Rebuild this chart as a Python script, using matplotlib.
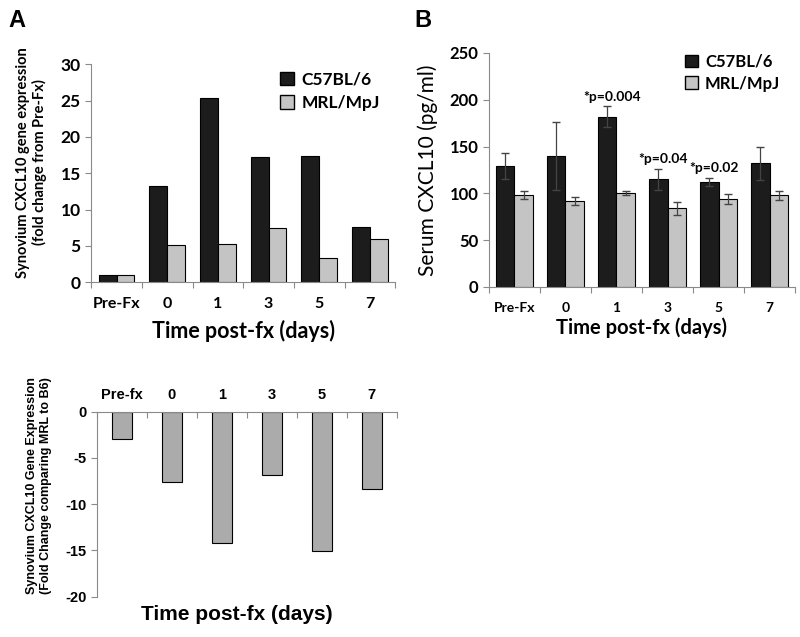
import matplotlib

matplotlib.use("Agg")
import matplotlib.pyplot as plt
from matplotlib.patches import Patch
import numpy as np

plt.rcParams["axes.unicode_minus"] = False

# panel A: synovium gene expression, fold change from Pre-Fx
a_labels = ["Pre-Fx", "0", "1", "3", "5", "7"]
a_b6 = [1.0, 13.2, 25.4, 17.2, 17.4, 7.6]
a_mrl = [1.0, 5.1, 5.3, 7.4, 3.4, 5.9]

# panel B: serum CXCL10 (pg/ml) with error bars
b_labels = ["Pre-Fx", "0", "1", "3", "5", "7"]
b_b6 = [129, 140, 182, 115, 112, 132]
b_b6_err = [14, 36, 11, 11, 4, 18]
b_mrl = [98, 92, 100, 84, 94, 98]
b_mrl_err = [4, 4, 2, 7, 5, 5]
b_notes = [(2, 203, "*p=0.004"), (3, 137, "*p=0.04"), (4, 127, "*p=0.02")]

# bottom panel: MRL vs B6 fold change
c_labels = ["Pre-fx", "0", "1", "3", "5", "7"]
c_vals = [-2.9, -7.6, -14.2, -6.8, -15.1, -8.4]

DARK = "#1c1c1c"
LIGHT = "#c4c4c4"
MID = "#ababab"
SPINE = "#8a8a8a"
CAL = ["Lato", "DejaVu Sans"]
ARI = ["Liberation Sans", "DejaVu Sans"]

fig = plt.figure(figsize=(8, 6.37), dpi=100)


def excel_axis(ax, labels, fam, xsize, ysize):
    n = len(labels)
    x = np.arange(n)
    ax.set_xlim(-0.5, n - 0.5)
    ax.set_xticks(np.arange(n + 1) - 0.5)
    ax.set_xticklabels([])
    ax.set_xticks(x, minor=True)
    ax.set_xticklabels(labels, minor=True, fontfamily=fam, fontweight="bold", fontsize=xsize)
    ax.tick_params(axis="x", which="minor", length=0, pad=11)
    ax.tick_params(axis="x", which="major", length=4, color=SPINE)
    ax.tick_params(axis="y", length=4, color=SPINE)
    for s in ("top", "right"):
        ax.spines[s].set_visible(False)
    for s in ("left", "bottom"):
        ax.spines[s].set_color(SPINE)
    for lab in ax.get_yticklabels():
        lab.set_fontfamily(fam)
        lab.set_fontweight("bold")
        lab.set_fontsize(ysize)
    return x


# ---- panel A
ax1 = fig.add_axes([0.114, 0.557, 0.38, 0.342])
x = np.arange(len(a_labels))
w = 0.35
ax1.bar(x - w / 2, a_b6, w, color=DARK, edgecolor="black", linewidth=0.8)
ax1.bar(x + w / 2, a_mrl, w, color=LIGHT, edgecolor="black", linewidth=0.8)
ax1.set_ylim(0, 30)
ax1.set_yticks([0, 5, 10, 15, 20, 25, 30])
excel_axis(ax1, a_labels, CAL, 11.5, 12.5)
ax1.set_ylabel("Synovium CXCL10 gene expression\n(fold change from Pre-Fx)",
               fontfamily=CAL, fontweight="bold", fontsize=10.5)
ax1.yaxis.set_label_coords(-0.145, 0.55)
ax1.set_xlabel("Time post-fx (days)", fontfamily=CAL, fontweight="bold", fontsize=15.5, labelpad=6)
ax1.legend(handles=[Patch(facecolor=DARK, edgecolor="black", label="C57BL/6"),
                    Patch(facecolor=LIGHT, edgecolor="black", label="MRL/MpJ")],
           loc="upper right", bbox_to_anchor=(1.0, 1.04), frameon=False,
           handlelength=0.8, handleheight=0.8, handletextpad=0.4, labelspacing=0.45,
           prop={"family": CAL, "weight": "bold", "size": 12.5})
fig.text(0.021, 0.968, "A", fontfamily=ARI, fontweight="bold", fontsize=17, va="center", ha="center")

# ---- panel B
ax2 = fig.add_axes([0.611, 0.5495, 0.383, 0.3675])
w = 0.36
ax2.bar(x - w / 2, b_b6, w, color=DARK, edgecolor="black", linewidth=0.8)
ax2.bar(x + w / 2, b_mrl, w, color=LIGHT, edgecolor="black", linewidth=0.8)
ax2.errorbar(x - w / 2, b_b6, yerr=b_b6_err, fmt="none", ecolor="#444444", elinewidth=0.9, capsize=3)
ax2.errorbar(x + w / 2, b_mrl, yerr=b_mrl_err, fmt="none", ecolor="#444444", elinewidth=0.9, capsize=3)
ax2.set_ylim(0, 250)
ax2.set_yticks([0, 50, 100, 150, 200, 250])
excel_axis(ax2, b_labels, CAL, 10, 12)
ax2.set_ylabel("Serum CXCL10 (pg/ml)", fontfamily=CAL, fontsize=15, labelpad=8)
ax2.set_xlabel("Time post-fx (days)", fontfamily=CAL, fontweight="bold", fontsize=14.5, labelpad=2)
for xi, yi, t in b_notes:
    ax2.text(xi - 0.08, yi, t, ha="center", va="center", fontfamily=CAL, fontweight="bold", fontsize=10)
ax2.legend(handles=[Patch(facecolor=DARK, edgecolor="black", label="C57BL/6"),
                    Patch(facecolor=LIGHT, edgecolor="black", label="MRL/MpJ")],
           loc="upper right", bbox_to_anchor=(1.0, 1.06), frameon=False,
           handlelength=0.8, handleheight=0.8, handletextpad=0.4, labelspacing=0.35,
           prop={"family": CAL, "weight": "bold", "size": 12})
fig.text(0.529, 0.968, "B", fontfamily=ARI, fontweight="bold", fontsize=17, va="center", ha="center")

# ---- bottom panel
ax3 = fig.add_axes([0.121, 0.0633, 0.375, 0.2904])
ax3.bar(x, c_vals, 0.41, color=MID, edgecolor="black", linewidth=0.8)
ax3.set_ylim(-20, 0)
ax3.set_yticks([-20, -15, -10, -5, 0])
ax3.set_xlim(-0.5, len(c_labels) - 0.5)
ax3.xaxis.set_ticks_position("top")
ax3.set_xticks(np.arange(len(c_labels) + 1) - 0.5)
ax3.set_xticklabels([])
ax3.set_xticks(x, minor=True)
ax3.set_xticklabels(c_labels, minor=True, fontfamily=ARI, fontweight="bold", fontsize=10.5)
ax3.tick_params(axis="x", which="minor", length=0, pad=7, top=True, bottom=False)
ax3.tick_params(axis="x", which="major", length=4, direction="in", color=SPINE, top=True, bottom=False)
ax3.tick_params(axis="y", length=4, color=SPINE)
for s in ("bottom", "right"):
    ax3.spines[s].set_visible(False)
for s in ("left", "top"):
    ax3.spines[s].set_color(SPINE)
for lab in ax3.get_yticklabels():
    lab.set_fontfamily(ARI)
    lab.set_fontweight("bold")
    lab.set_fontsize(10.5)
ax3.set_ylabel("Synovium CXCL10 Gene Expression\n(Fold Change comparing MRL to B6)",
               fontfamily=ARI, fontweight="bold", fontsize=9)
ax3.yaxis.set_label_coords(-0.15, 0.6)
fig.text(0.296, 0.05, "Time post-fx (days)", fontfamily=ARI, fontweight="bold", fontsize=15,
         ha="center", va="top")

fig.savefig("out.png", dpi=100)
